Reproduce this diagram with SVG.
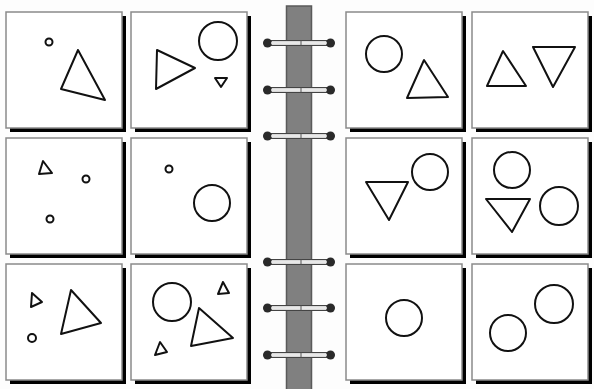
<svg xmlns="http://www.w3.org/2000/svg" width="594" height="389" viewBox="0 0 594 389">
<defs>
<style>
.sh{fill:#000}
.pg{fill:#fff;stroke:#8a8a8a;stroke-width:1.5}
.f{fill:none;stroke:#111;stroke-width:2;stroke-linejoin:round}
.bar{fill:#d8d8d8;stroke:#444;stroke-width:1}
.end{fill:#2a2a2a}
</style>
<g id="ring">
<rect class="bar" x="264" y="-2.5" width="70" height="5" rx="2.5"/>
<ellipse class="end" cx="267.5" cy="0" rx="4.5" ry="4.5"/>
<ellipse class="end" cx="330.5" cy="0" rx="4.5" ry="4.5"/>
<line x1="271" y1="0" x2="327" y2="0" stroke="#eee" stroke-width="1.5"/>
<line x1="301" y1="-2.5" x2="301" y2="2.5" stroke="#555" stroke-width="1"/>
</g>
</defs>
<rect width="594" height="389" fill="#fdfdfd"/>
<g id="spine">
<rect x="286.5" y="6" width="25" height="390" fill="#808080" stroke="#5a5a5a" stroke-width="1.5"/>
</g>
<g id="rings">
<use href="#ring" y="43"/>
<use href="#ring" y="90"/>
<use href="#ring" y="136"/>
<use href="#ring" y="262"/>
<use href="#ring" y="308"/>
<use href="#ring" y="355"/>
</g>
<g id="p1"><rect class="sh" x="10" y="16" width="116" height="116"/><rect class="pg" x="6" y="12" width="116" height="116"/>
<circle class="f" cx="49" cy="42" r="3.5"/><polygon class="f" points="78,50 61,89 105,100"/></g>
<g id="p2"><rect class="sh" x="135" y="16" width="116" height="116"/><rect class="pg" x="131" y="12" width="116" height="116"/>
<circle class="f" cx="218" cy="41" r="19"/><polygon class="f" points="157,50 156,89 195,68"/><polygon class="f" points="215,78 227,78 221,87"/></g>
<g id="p3"><rect class="sh" x="350" y="16" width="116" height="116"/><rect class="pg" x="346" y="12" width="116" height="116"/>
<circle class="f" cx="384" cy="54" r="18"/><polygon class="f" points="424,60 407,98 448,97"/></g>
<g id="p4"><rect class="sh" x="476" y="16" width="116" height="116"/><rect class="pg" x="472" y="12" width="116" height="116"/>
<polygon class="f" points="503,51 487,86 526,86"/><polygon class="f" points="533,47 575,47 553,87"/></g>
<g id="p5"><rect class="sh" x="10" y="142" width="116" height="116"/><rect class="pg" x="6" y="138" width="116" height="116"/>
<polygon class="f" points="43,161 39,174 52,173"/><circle class="f" cx="86" cy="179" r="3.5"/><circle class="f" cx="50" cy="219" r="3.5"/></g>
<g id="p6"><rect class="sh" x="135" y="142" width="116" height="116"/><rect class="pg" x="131" y="138" width="116" height="116"/>
<circle class="f" cx="169" cy="169" r="3.5"/><circle class="f" cx="212" cy="203" r="18"/></g>
<g id="p7"><rect class="sh" x="350" y="142" width="116" height="116"/><rect class="pg" x="346" y="138" width="116" height="116"/>
<polygon class="f" points="366,182 408,182 389,220"/><circle class="f" cx="430" cy="172" r="18"/></g>
<g id="p8"><rect class="sh" x="476" y="142" width="116" height="116"/><rect class="pg" x="472" y="138" width="116" height="116"/>
<circle class="f" cx="512" cy="170" r="18"/><polygon class="f" points="486,199 530,199 512,232"/><circle class="f" cx="559" cy="206" r="19"/></g>
<g id="p9"><rect class="sh" x="10" y="268" width="116" height="116"/><rect class="pg" x="6" y="264" width="116" height="116"/>
<polygon class="f" points="32,293 31,307 42,302"/><circle class="f" cx="32" cy="338" r="4"/><polygon class="f" points="71,290 61,334 101,323"/></g>
<g id="p10"><rect class="sh" x="135" y="268" width="116" height="116"/><rect class="pg" x="131" y="264" width="116" height="116"/>
<circle class="f" cx="172" cy="302" r="19"/><polygon class="f" points="223,282 218,294 229,293"/><polygon class="f" points="199,308 191,346 233,338"/><polygon class="f" points="160,342 155,355 167,352"/></g>
<g id="p11"><rect class="sh" x="350" y="268" width="116" height="116"/><rect class="pg" x="346" y="264" width="116" height="116"/>
<circle class="f" cx="404" cy="318" r="18"/></g>
<g id="p12"><rect class="sh" x="476" y="268" width="116" height="116"/><rect class="pg" x="472" y="264" width="116" height="116"/>
<circle class="f" cx="508" cy="333" r="18"/><circle class="f" cx="554" cy="304" r="19"/></g>
</svg>
